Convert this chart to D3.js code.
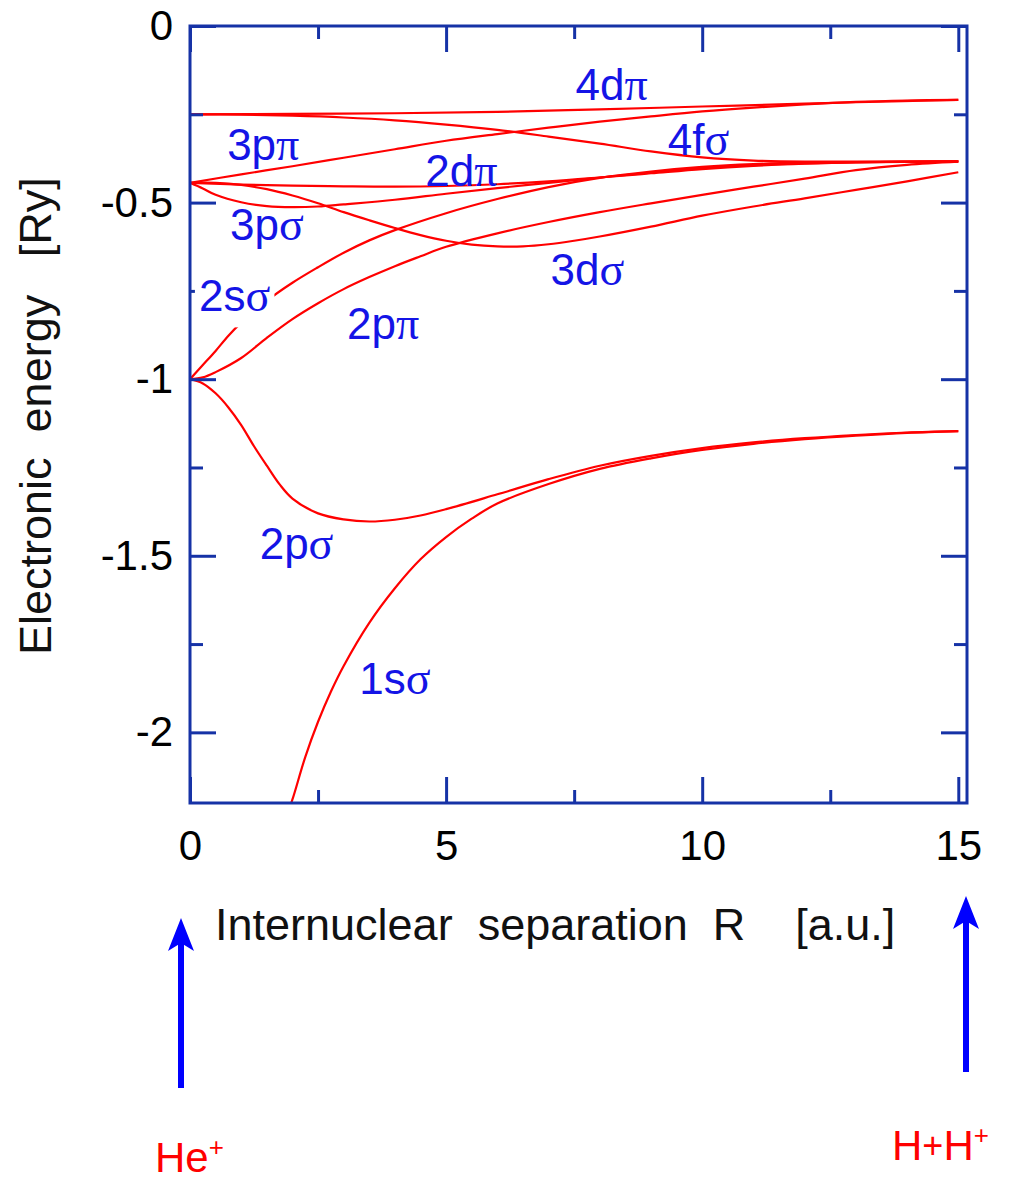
<!DOCTYPE html>
<html><head><meta charset="utf-8">
<script src="https://cdn.jsdelivr.net/npm/d3@7"></script>
<style>
body{margin:0;background:#fff}
text{font-family:"Liberation Sans",Arial,sans-serif}
</style>
</head><body>
<svg id="chart" width="1013" height="1182"></svg>
<script>
// ---------- data (R in a.u., electronic energy in Ry) ----------
const xTicksMajor = [0, 5, 10, 15];
const xTicksMinor = [2.5, 7.5, 12.5];
const yTicksMajor = [0, -0.5, -1, -1.5, -2];
const yTicksMinor = [-0.25, -0.75, -1.25, -1.75];
const yTickLabels = ["0", "-0.5", "-1", "-1.5", "-2"];
const xTickLabels = ["0", "5", "10", "15"];

const curve1sSigma = [[1.9,-2.23],[2,-2.19],[2.25,-2.07],[2.5,-1.97],[2.75,-1.885],[3,-1.812],[3.5,-1.69],[4,-1.592],[4.5,-1.51],[5,-1.447],[5.5,-1.395],[6,-1.352],[7,-1.297],[8,-1.254],[9,-1.224],[10,-1.2],[11,-1.183],[12,-1.17],[13,-1.16],[14,-1.152],[15,-1.147]];
const curve2pSigma = [[0,-1.0],[0.25,-1.012],[0.5,-1.04],[0.75,-1.08],[1,-1.13],[1.25,-1.19],[1.5,-1.245],[1.75,-1.298],[2,-1.338],[2.5,-1.38],[3,-1.397],[3.5,-1.403],[4,-1.398],[4.5,-1.386],[5,-1.368],[6,-1.326],[7,-1.283],[8,-1.245],[9,-1.217],[10,-1.195],[11,-1.179],[12,-1.167],[13,-1.158],[14,-1.151],[15,-1.147]];
const curve2sSigma = [[0,-1.0],[0.25,-0.96],[0.5,-0.92],[0.75,-0.877],[1,-0.84],[1.5,-0.778],[2,-0.727],[2.5,-0.683],[3,-0.642],[3.5,-0.607],[4,-0.578],[5,-0.53],[6,-0.49],[7,-0.456],[8,-0.43],[9,-0.412],[10,-0.399],[11,-0.391],[12,-0.387],[13,-0.385],[15,-0.383]];
const curve2pPi = [[0,-1.0],[0.25,-0.995],[0.5,-0.98],[1,-0.94],[1.5,-0.883],[2,-0.83],[2.5,-0.785],[3,-0.745],[3.5,-0.711],[4,-0.68],[4.5,-0.652],[5,-0.625],[6,-0.587],[7,-0.555],[8,-0.527],[9,-0.502],[10,-0.478],[11,-0.455],[12,-0.432],[13,-0.408],[14,-0.393],[15,-0.384]];
const curve3pSigma = [[0,-0.444],[0.25,-0.46],[0.5,-0.478],[1,-0.499],[1.5,-0.51],[2,-0.513],[2.5,-0.511],[3,-0.505],[4,-0.492],[5,-0.475],[6,-0.459],[7,-0.444],[8,-0.429],[9,-0.415],[10,-0.402],[11,-0.394],[12,-0.389],[13,-0.386],[15,-0.383]];
const curve3pPi = [[0,-0.444],[1,-0.42],[2,-0.397],[3,-0.373],[4,-0.349],[5,-0.325],[6,-0.306],[7,-0.288],[8,-0.271],[9,-0.256],[10,-0.242],[11,-0.231],[12,-0.222],[13,-0.215],[14,-0.211],[15,-0.209]];
const curve2dPi = [[0,-0.444],[1,-0.449],[2,-0.452],[3,-0.454],[4,-0.455],[5,-0.453],[6,-0.448],[7,-0.44],[8,-0.429],[9,-0.417],[10,-0.405],[11,-0.396],[12,-0.39],[13,-0.386],[15,-0.383]];
const curve3dSigma = [[0,-0.444],[0.5,-0.444],[1,-0.45],[1.5,-0.462],[2,-0.48],[2.5,-0.502],[3,-0.527],[3.5,-0.55],[4,-0.572],[4.5,-0.592],[5,-0.608],[5.5,-0.619],[6,-0.624],[6.5,-0.624],[7,-0.618],[7.5,-0.608],[8,-0.596],[9,-0.568],[10,-0.537],[11,-0.511],[12,-0.488],[13,-0.464],[14,-0.44],[15,-0.414]];
const curve4fSigma = [[0,-0.25],[1,-0.251],[2,-0.254],[3,-0.259],[4,-0.267],[5,-0.279],[6,-0.294],[7,-0.313],[8,-0.333],[9,-0.355],[10,-0.372],[11,-0.381],[12,-0.384],[13,-0.384],[15,-0.384]];
const curve4dPi = [[0,-0.25],[2,-0.249],[4,-0.247],[6,-0.243],[8,-0.236],[10,-0.228],[12,-0.22],[13.5,-0.214],[15,-0.209]];

const curves = [curve1sSigma, curve2pSigma, curve2sSigma, curve2pPi, curve3pSigma, curve3pPi, curve2dPi, curve3dSigma, curve4fSigma, curve4dPi];

// curve labels
const labelText  = ["4d","3p","4f","2d","3p","3d","2s","2p","2p","1s"];
const labelGreek = ["π","π","σ","π","σ","σ","σ","π","σ","σ"];
const labelR     = [8.23, 1.43, 9.93, 5.3, 1.5, 7.76, 0.87, 3.77, 2.08, 4.0];
const labelE     = [-0.209, -0.379, -0.364, -0.452, -0.605, -0.732, -0.808, -0.887, -1.508, -1.89];
const labelMask  = [false,false,false,false,false,false,true,false,false,false];

// ---------- drawing ----------
const svg = d3.select("#chart");
const L = 190, Rt = 967, T = 26, B = 803;
const x = d3.scaleLinear().domain([0, 15.17]).range([L, Rt]);
const y = d3.scaleLinear().domain([-2.2, 0]).range([B, T]);
const frameColor = "#1632a6";

svg.append("defs").append("clipPath").attr("id","clip")
  .append("rect").attr("x",L).attr("y",T).attr("width",Rt-L).attr("height",B-T);

const line = d3.line().x(d=>x(d[0])).y(d=>y(d[1])).curve(d3.curveCatmullRom.alpha(0.5));
svg.append("g").attr("clip-path","url(#clip)")
  .selectAll("path").data(curves).join("path")
  .attr("d", line).attr("fill","none").attr("stroke","#ff0000").attr("stroke-width",2.2);

// inward ticks on all four sides
function styleAxis(g){ g.select(".domain").remove(); g.selectAll("line").attr("stroke",frameColor).attr("stroke-width",3); }
svg.append("g").attr("transform",`translate(0,${B})`).call(d3.axisTop(x).tickValues(xTicksMajor).tickSize(26).tickFormat("")).call(styleAxis);
svg.append("g").attr("transform",`translate(0,${B})`).call(d3.axisTop(x).tickValues(xTicksMinor).tickSize(13).tickFormat("")).call(styleAxis);
svg.append("g").attr("transform",`translate(0,${T})`).call(d3.axisBottom(x).tickValues(xTicksMajor).tickSize(26).tickFormat("")).call(styleAxis);
svg.append("g").attr("transform",`translate(0,${T})`).call(d3.axisBottom(x).tickValues(xTicksMinor).tickSize(13).tickFormat("")).call(styleAxis);
svg.append("g").attr("transform",`translate(${L},0)`).call(d3.axisRight(y).tickValues(yTicksMajor).tickSize(26).tickFormat("")).call(styleAxis);
svg.append("g").attr("transform",`translate(${L},0)`).call(d3.axisRight(y).tickValues(yTicksMinor).tickSize(13).tickFormat("")).call(styleAxis);
svg.append("g").attr("transform",`translate(${Rt},0)`).call(d3.axisLeft(y).tickValues(yTicksMajor).tickSize(26).tickFormat("")).call(styleAxis);
svg.append("g").attr("transform",`translate(${Rt},0)`).call(d3.axisLeft(y).tickValues(yTicksMinor).tickSize(13).tickFormat("")).call(styleAxis);

// tick labels
const xl = svg.append("g").attr("transform",`translate(0,${B})`)
  .call(d3.axisBottom(x).tickValues(xTicksMajor).tickSize(0).tickPadding(27).tickFormat((d,i)=>xTickLabels[i]));
xl.select(".domain").remove();
xl.selectAll("text").attr("font-size",42).attr("fill","#000").attr("font-family","Liberation Sans, Arial, sans-serif");
const yl = svg.append("g").attr("transform",`translate(${L},0)`)
  .call(d3.axisLeft(y).tickValues(yTicksMajor).tickSize(0).tickPadding(17).tickFormat((d,i)=>yTickLabels[i]));
yl.select(".domain").remove();
yl.selectAll("text").attr("font-size",42).attr("fill","#000").attr("font-family","Liberation Sans, Arial, sans-serif");

// frame
svg.append("rect").attr("x",L).attr("y",T).attr("width",Rt-L).attr("height",B-T)
  .attr("fill","none").attr("stroke",frameColor).attr("stroke-width",3);

// axis titles
svg.append("text").attr("transform",`translate(51,655) rotate(-90)`)
  .attr("text-anchor","start").attr("font-size",45).attr("fill","#111")
  .style("white-space","pre").text("Electronic  energy   [Ry]");
svg.append("text").attr("x",215).attr("y",940)
  .attr("font-size",45).attr("fill","#111")
  .style("white-space","pre").text("Internuclear  separation  R    [a.u.]");

// curve labels
const lab = svg.append("g");
labelText.forEach((t,i)=>{
  const g = lab.append("g");
  const tx = g.append("text").attr("x",x(labelR[i])).attr("y",y(labelE[i]))
    .attr("text-anchor","middle").attr("font-size",44).attr("fill","#1414e6");
  tx.append("tspan").text(t);
  tx.append("tspan").attr("font-family","Liberation Serif, serif").attr("font-size",46).text(labelGreek[i]);
  if (labelMask[i]) {
    const bb = tx.node().getBBox();
    g.insert("rect","text").attr("x",bb.x-4).attr("y",bb.y+4).attr("width",bb.width+8).attr("height",bb.height+2).attr("fill","#fff");
  }
});

// arrows
function arrow(cx, yBottom, yTip){
  svg.append("rect").attr("x",cx-3).attr("y",yTip+20).attr("width",6).attr("height",yBottom-yTip-20).attr("fill","#0000ff");
  svg.append("path").attr("d",`M${cx},${yTip} L${cx-13},${yTip+33} L${cx},${yTip+25} L${cx+13},${yTip+33} Z`).attr("fill","#0000ff");
}
arrow(181, 1088, 918);
arrow(966, 1072, 896);

// species labels
const he = svg.append("text").attr("x",155).attr("y",1172).attr("font-size",42).attr("fill","#ff0000");
he.append("tspan").text("He");
he.append("tspan").attr("font-size",26).attr("dy",-16).text("+");
const hh = svg.append("text").attr("x",892).attr("y",1160).attr("font-size",42).attr("fill","#ff0000");
hh.append("tspan").text("H");
hh.append("tspan").attr("font-size",36).attr("dy",-2).text("+");
hh.append("tspan").attr("dy",2).text("H");
hh.append("tspan").attr("font-size",26).attr("dy",-16).text("+");
</script>
</body></html>
